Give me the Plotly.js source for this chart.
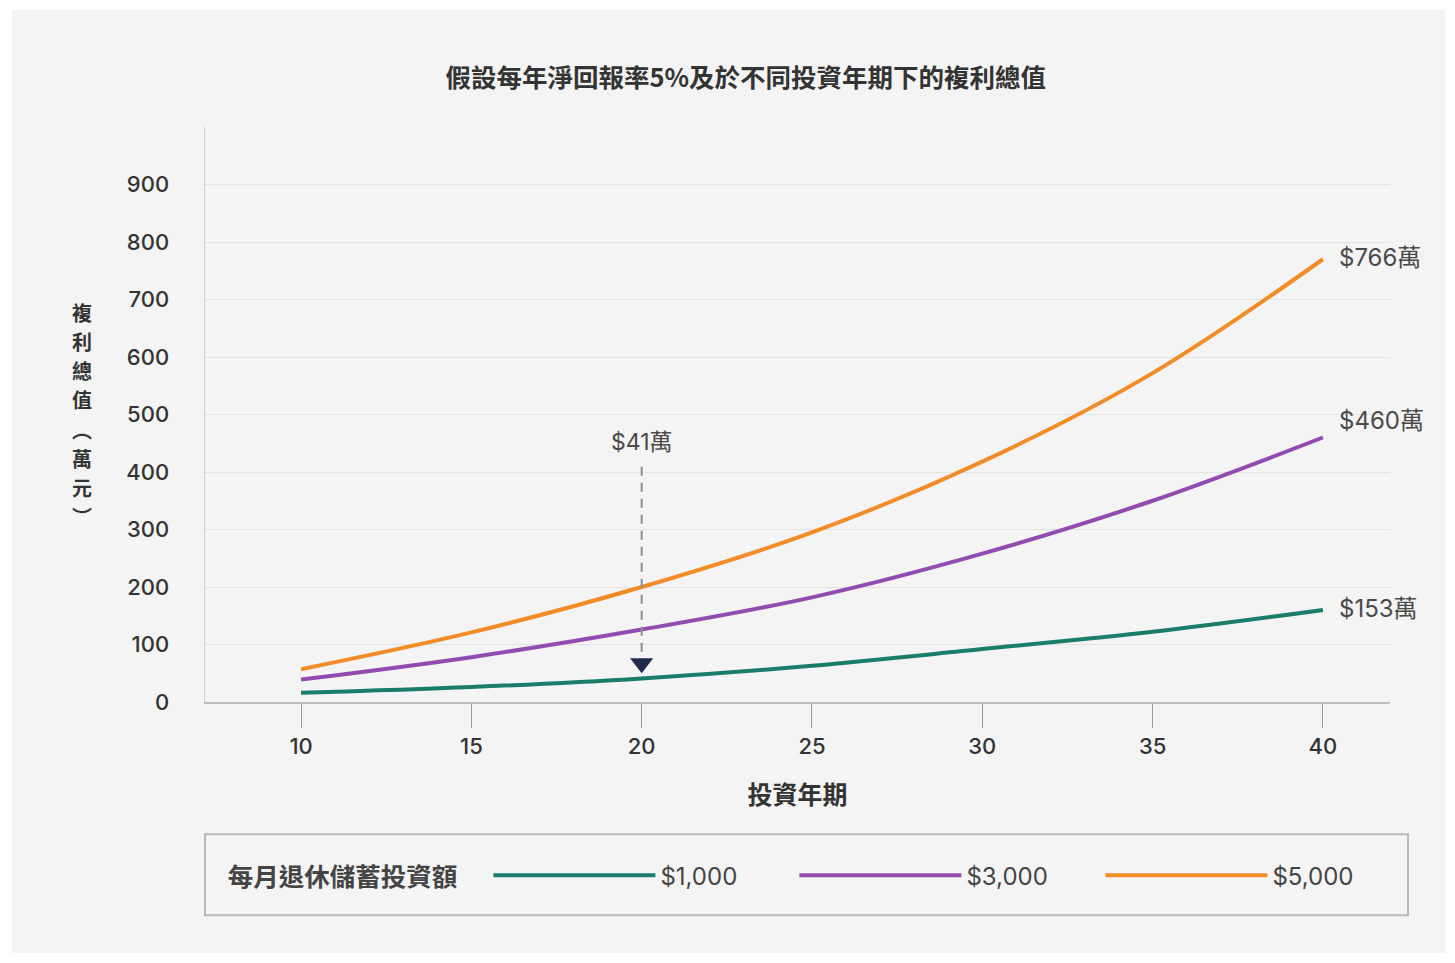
<!DOCTYPE html>
<html>
<head>
<meta charset="utf-8">
<script src="https://cdn.plot.ly/plotly-3.0.1.min.js"></script>
<style>
  html, body { margin: 0; padding: 0; background: #ffffff; }
  #chart { position: absolute; left: 12px; top: 10px; width: 1433px; height: 943px; }
</style>
</head>
<body>
<div id="chart"></div>
<script>
// ---- data ----
const years = [10, 15, 20, 25, 30, 35, 40];
const v1000 = [16, 26, 41, 63, 92, 122, 160];
const v3000 = [39, 78, 126, 182, 258, 350, 460];
const v5000 = [57, 121, 200, 295, 418, 572, 770];
const seriesNames = ['$1,000', '$3,000', '$5,000'];
const endLabels = ['$153萬', '$460萬', '$766萬'];
const xTicks = [10, 15, 20, 25, 30, 35, 40];
const yTicks = [0, 100, 200, 300, 400, 500, 600, 700, 800, 900];
const calloutYear = 20;
const calloutText = '$41萬';
const legendTitle = '每月退休儲蓄投資額';
const yTitleChars = ['複', '利', '總', '值', '︵', '萬', '元', '︶'];

const colors = ['#1a7d6b', '#914caf', '#f28c28'];
const FONT = 'Inter, "Noto Sans CJK TC", "Noto Sans", sans-serif';
const CJK = '"Noto Sans CJK TC", Inter, sans-serif';

const allSeries = [v1000, v3000, v5000];
const traces = allSeries.map((vals, i) => ({
  type: 'scatter', mode: 'lines', x: years, y: vals, name: seriesNames[i],
  line: { color: colors[i], width: 4, shape: 'spline', smoothing: 1 },
  hoverinfo: 'x+y'
}));

// arrow head of the callout
traces.push({
  type: 'scatter', mode: 'markers', x: [calloutYear], y: [67.6], showlegend: false,
  marker: { symbol: 'triangle-down', size: 20, color: '#1f2a48' }, hoverinfo: 'skip'
});

const endShifts = [2, 17, 2];
const annotations = allSeries.map((vals, i) => ({
  x: years[years.length - 1], y: vals[vals.length - 1], xref: 'x', yref: 'y',
  text: endLabels[i], showarrow: false, xanchor: 'left', yanchor: 'middle',
  xshift: 14, yshift: endShifts[i],
  font: { family: FONT, size: 24, color: '#4a4a4a' }
}));
annotations.push({
  x: calloutYear, y: 453, xref: 'x', yref: 'y', text: calloutText, showarrow: false,
  xanchor: 'center', yanchor: 'middle',
  font: { family: FONT, size: 23, color: '#4a4a4a' }
});
// vertical stacked y-axis title, one character per annotation
const plotH = 574, charStep = 29;
yTitleChars.forEach((ch, i) => {
  annotations.push({
    x: -0.104, y: 0.5 - (i - (yTitleChars.length - 1) / 2) * charStep / plotH,
    xref: 'paper', yref: 'paper', showarrow: false, text: ch,
    xanchor: 'center', yanchor: 'middle',
    font: { family: CJK, size: 20, color: '#333333', weight: 700 }
  });
});

const layout = {
  width: 1433, height: 943,
  paper_bgcolor: '#f4f4f4', plot_bgcolor: '#f4f4f4',
  margin: { l: 193, r: 55, t: 117, b: 251 },
  title: {
    text: '假設每年淨回報率5%及於不同投資年期下的複利總值',
    x: 0.512, xref: 'container', xanchor: 'center',
    y: 0.928, yref: 'container', yanchor: 'middle',
    font: { family: CJK, size: 25.5, color: '#333333', weight: 700 }
  },
  xaxis: {
    range: [7.18, 41.97], tickvals: xTicks, ticktext: xTicks.map(String),
    showgrid: false, zeroline: false,
    showline: true, linecolor: '#bdbdbd', linewidth: 1.5,
    ticks: 'outside', ticklen: 24, tickcolor: '#9a9a9a', tickwidth: 1,
    tickfont: { family: FONT, size: 22, color: '#333333', weight: 500 },
    title: { text: '投資年期', standoff: 28,
      font: { family: CJK, size: 25, color: '#333333', weight: 700 } },
    fixedrange: true
  },
  yaxis: {
    range: [0, 1000], tickvals: yTicks, ticktext: yTicks.map(String),
    showgrid: true, gridcolor: '#e3e3e3', gridwidth: 1, zeroline: false,
    showline: true, linecolor: '#cfcfcf', linewidth: 1.5,
    ticks: '', ticklabelstandoff: 30,
    tickfont: { family: FONT, size: 22, color: '#333333', weight: 500 },
    fixedrange: true
  },
  showlegend: true,
  legend: {
    orientation: 'h', x: 0.0175, xanchor: 'left', y: -0.302, yanchor: 'middle',
    bgcolor: 'rgba(0,0,0,0)', borderwidth: 0,
    itemwidth: 162, entrywidth: 129, entrywidthmode: 'pixels',
    font: { family: FONT, size: 24, color: '#444444' },
    title: { text: legendTitle + '\u00a0\u00a0\u00a0\u00a0', side: 'left',
      font: { family: CJK, size: 25.5, color: '#444444', weight: 700 } }
  },
  shapes: [
    { type: 'line', xref: 'x', yref: 'y', x0: calloutYear, x1: calloutYear, y0: 409, y1: 82,
      line: { color: '#8d8f99', width: 2, dash: '9px,7px' } },
    { type: 'rect', xref: 'paper', yref: 'paper', x0: 0, x1: 1.0152, y0: -0.23, y1: -0.371,
      line: { color: '#b8b8b8', width: 2 }, fillcolor: 'rgba(0,0,0,0)', layer: 'below' }
  ],
  annotations: annotations
};

Plotly.newPlot('chart', traces, layout, { displayModeBar: false, staticPlot: true });
</script>
</body>
</html>
